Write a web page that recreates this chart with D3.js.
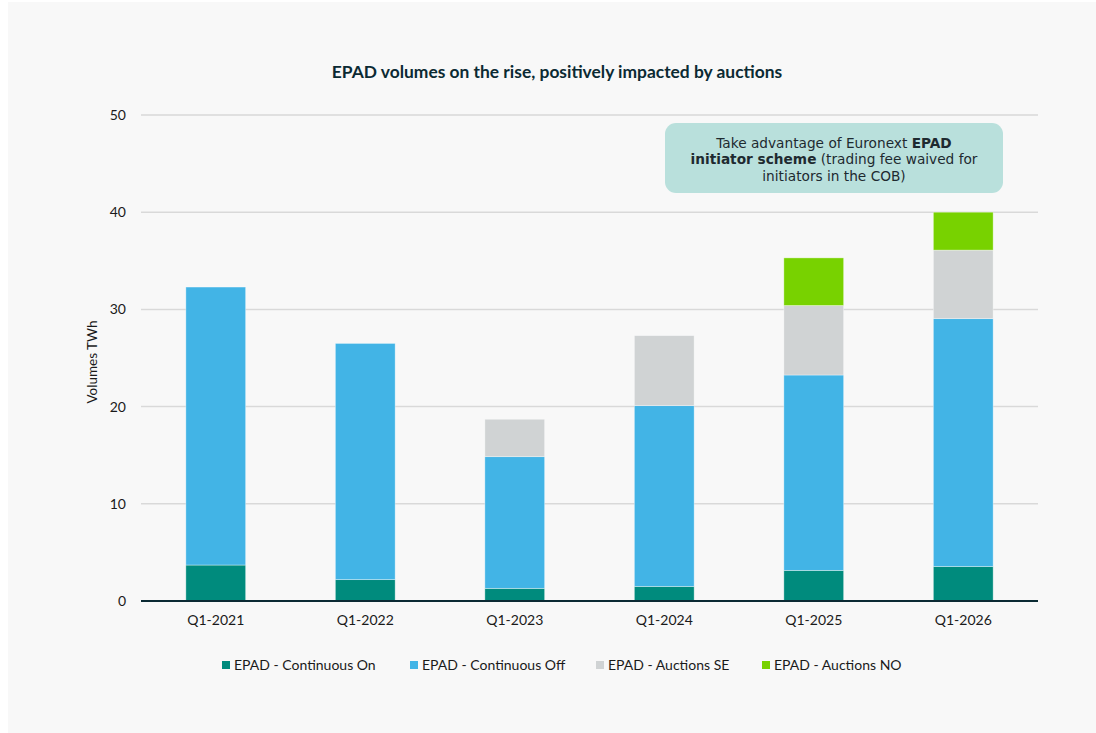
<!DOCTYPE html>
<html>
<head>
<meta charset="utf-8">
<script src="https://cdn.jsdelivr.net/npm/d3@7"></script>
<style>
  html, body { margin: 0; padding: 0; background: #ffffff; }
  svg { display: block; }
</style>
</head>
<body>
<svg id="chart" width="1096" height="733"></svg>
<script>
const categories = ["Q1-2021", "Q1-2022", "Q1-2023", "Q1-2024", "Q1-2025", "Q1-2026"];
const seriesNames = ["EPAD - Continuous On", "EPAD - Continuous Off", "EPAD - Auctions SE", "EPAD - Auctions NO"];
const continuousOn  = [3.7, 2.2, 1.3, 1.5, 3.15, 3.55];
const continuousOff = [28.6, 24.3, 13.55, 18.6, 20.1, 25.5];
const auctionsSE    = [0, 0, 3.85, 7.2, 7.15, 7.05];
const auctionsNO    = [0, 0, 0, 0, 4.9, 3.9];
const yTicks = [0, 10, 20, 30, 40, 50];
const colors = ["#008B7D", "#42B4E6", "#D0D3D4", "#78D200"];

const svg = d3.select("#chart");
const W = 1096, H = 733;
const margin = { left: 141, right: 58, top: 115, bottom: 132 };

svg.append("rect").attr("x", 8).attr("y", 2).attr("width", W - 8).attr("height", H - 2).attr("fill", "#f8f8f8");

const x = d3.scaleBand().domain(categories).range([margin.left, W - margin.right]).paddingInner(0.6).paddingOuter(0.3);
const y = d3.scaleLinear().domain([0, 50]).range([H - margin.bottom, margin.top]);

// grid
svg.append("g").selectAll("line").data(yTicks.filter(d => d > 0)).join("line")
  .attr("x1", margin.left).attr("x2", W - margin.right)
  .attr("y1", d => y(d)).attr("y2", d => y(d))
  .attr("stroke", "#d9d9d9").attr("stroke-width", 1.5);

// stacked data
const table = categories.map((c, i) => ({
  cat: c,
  [seriesNames[0]]: continuousOn[i],
  [seriesNames[1]]: continuousOff[i],
  [seriesNames[2]]: auctionsSE[i],
  [seriesNames[3]]: auctionsNO[i]
}));
const stack = d3.stack().keys(seriesNames)(table);

svg.append("g").selectAll("g").data(stack).join("g")
  .attr("fill", (d, i) => colors[i])
  .selectAll("rect").data(d => d.filter(p => p[1] - p[0] > 0)).join("rect")
  .attr("x", d => x(d.data.cat))
  .attr("width", x.bandwidth())
  .attr("y", d => y(d[1]))
  .attr("height", d => y(d[0]) - y(d[1]))
  .attr("stroke", "rgba(255,255,255,0.45)")
  .attr("stroke-width", 0.8);

// zero line
svg.append("line").attr("x1", margin.left).attr("x2", W - margin.right)
  .attr("y1", y(0)).attr("y2", y(0)).attr("stroke", "#0B2A33").attr("stroke-width", 2);

const font = "Lato, 'Open Sans', sans-serif";

// y tick labels
const yAxis = d3.axisLeft(y).tickValues(yTicks).tickSize(0).tickPadding(15);
const gy = svg.append("g").attr("transform", `translate(${margin.left},0)`).call(yAxis);
gy.select(".domain").remove();
gy.selectAll("text").attr("font-family", font).attr("font-size", 14).attr("fill", "#1a1a1a");

// x tick labels
const xAxis = d3.axisBottom(x).tickSize(0).tickPadding(14);
const gx = svg.append("g").attr("transform", `translate(0,${y(0)})`).call(xAxis);
gx.select(".domain").remove();
gx.selectAll("text").attr("font-family", font).attr("font-size", 14).attr("fill", "#1a1a1a");

// y axis title
svg.append("text").attr("transform", `translate(97,${(y(0) + y(50)) / 2 + 4}) rotate(-90)`)
  .attr("text-anchor", "middle").attr("font-family", font).attr("font-size", 13.5).attr("fill", "#1a1a1a")
  .text("Volumes TWh");

// title
svg.append("text").attr("x", 557).attr("y", 78).attr("text-anchor", "middle")
  .attr("font-family", font).attr("font-weight", "bold").attr("font-size", 17.4).attr("fill", "#0B2A33")
  .text("EPAD volumes on the rise, positively impacted by auctions");

// annotation
svg.append("rect").attr("x", 665).attr("y", 123).attr("width", 338).attr("height", 70).attr("rx", 11)
  .attr("fill", "#B9E0DC");
const af = "'DejaVu Sans', Verdana, sans-serif";
const ann = svg.append("text").attr("text-anchor", "middle").attr("font-family", af).attr("font-size", 13.7).attr("fill", "#1e2a30");
const l1 = ann.append("tspan").attr("x", 834).attr("y", 148);
l1.append("tspan").text("Take advantage of Euronext ");
l1.append("tspan").attr("font-weight", "bold").text("EPAD");
const l2 = ann.append("tspan").attr("x", 834).attr("y", 164);
l2.append("tspan").attr("font-weight", "bold").text("initiator scheme");
l2.append("tspan").text(" (trading fee waived for");
ann.append("tspan").attr("x", 834).attr("y", 181).text("initiators in the COB)");

// legend
const legendX = [222, 410, 596, 762];
const lg = svg.append("g").selectAll("g").data(seriesNames).join("g")
  .attr("transform", (d, i) => `translate(${legendX[i]},665)`);
lg.append("rect").attr("x", 0).attr("y", -4).attr("width", 8).attr("height", 8).attr("fill", (d, i) => colors[i]);
lg.append("text").attr("x", 12).attr("y", 5).attr("font-family", font).attr("font-size", 14).attr("fill", "#1a1a1a").text(d => d);
</script>
</body>
</html>
